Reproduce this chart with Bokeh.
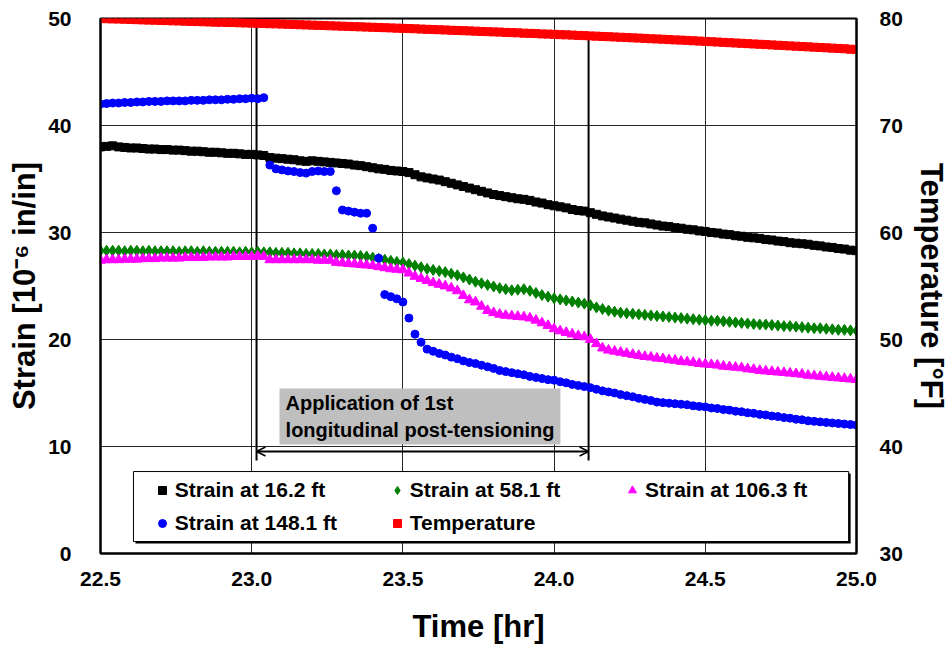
from bokeh.plotting import figure
from bokeh.models import (Range1d, LinearAxis, FixedTicker, Legend, LegendItem, Label,
                          BoxAnnotation, Arrow, OpenHead, PrintfTickFormatter)
from bokeh.embed import file_html
from bokeh.resources import INLINE

# ---------------- data ----------------
time_hr = [
    22.50, 22.52, 22.54, 22.56, 22.58, 22.60, 22.62, 22.64, 22.66, 22.68,
    22.70, 22.72, 22.74, 22.76, 22.78, 22.80, 22.82, 22.84, 22.86, 22.88,
    22.90, 22.92, 22.94, 22.96, 22.98, 23.00, 23.02, 23.04, 23.06, 23.08,
    23.10, 23.12, 23.14, 23.16, 23.18, 23.20, 23.22, 23.24, 23.26, 23.28,
    23.30, 23.32, 23.34, 23.36, 23.38, 23.40, 23.42, 23.44, 23.46, 23.48,
    23.50, 23.52, 23.54, 23.56, 23.58, 23.60, 23.62, 23.64, 23.66, 23.68,
    23.70, 23.72, 23.74, 23.76, 23.78, 23.80, 23.82, 23.84, 23.86, 23.88,
    23.90, 23.92, 23.94, 23.96, 23.98, 24.00, 24.02, 24.04, 24.06, 24.08,
    24.10, 24.12, 24.14, 24.16, 24.18, 24.20, 24.22, 24.24, 24.26, 24.28,
    24.30, 24.32, 24.34, 24.36, 24.38, 24.40, 24.42, 24.44, 24.46, 24.48,
    24.50, 24.52, 24.54, 24.56, 24.58, 24.60, 24.62, 24.64, 24.66, 24.68,
    24.70, 24.72, 24.74, 24.76, 24.78, 24.80, 24.82, 24.84, 24.86, 24.88,
    24.90, 24.92, 24.94, 24.96, 24.98, 25.00,
]

strain_16_2 = [
    38.00, 38.05, 38.10, 38.00, 37.95, 37.90, 37.90, 37.85, 37.80, 37.80,
    37.75, 37.75, 37.70, 37.70, 37.65, 37.60, 37.60, 37.55, 37.50, 37.50,
    37.45, 37.40, 37.40, 37.35, 37.30, 37.30, 37.25, 37.20, 37.00, 36.95,
    36.90, 36.85, 36.80, 36.70, 36.65, 36.70, 36.65, 36.60, 36.55, 36.50,
    36.45, 36.40, 36.30, 36.25, 36.15, 36.05, 35.95, 35.90, 35.80, 35.75,
    35.70, 35.60, 35.40, 35.20, 35.10, 35.00, 34.90, 34.75, 34.60, 34.45,
    34.30, 34.15, 34.00, 33.85, 33.70, 33.55, 33.45, 33.35, 33.25, 33.15,
    33.10, 33.00, 32.85, 32.75, 32.60, 32.50, 32.40, 32.30, 32.15, 32.05,
    32.00, 31.85, 31.70, 31.55, 31.45, 31.35, 31.25, 31.15, 31.05, 30.95,
    30.90, 30.80, 30.70, 30.60, 30.55, 30.45, 30.40, 30.30, 30.25, 30.15,
    30.10, 30.00, 29.95, 29.85, 29.80, 29.70, 29.65, 29.55, 29.50, 29.45,
    29.35, 29.30, 29.20, 29.15, 29.05, 29.00, 28.95, 28.90, 28.80, 28.75,
    28.65, 28.60, 28.50, 28.45, 28.35, 28.30,
]

strain_58_1 = [
    28.30, 28.30, 28.30, 28.30, 28.25, 28.30, 28.30, 28.25, 28.30, 28.25,
    28.25, 28.25, 28.25, 28.20, 28.25, 28.25, 28.20, 28.25, 28.20, 28.20,
    28.20, 28.20, 28.20, 28.15, 28.20, 28.15, 28.20, 28.15, 28.15, 28.10,
    28.10, 28.10, 28.05, 28.05, 28.00, 28.00, 28.00, 27.95, 27.95, 27.90,
    27.90, 27.85, 27.85, 27.80, 27.75, 27.65, 27.55, 27.45, 27.35, 27.25,
    27.20, 27.05, 26.90, 26.75, 26.60, 26.50, 26.40, 26.30, 26.15, 26.00,
    25.80, 25.60, 25.40, 25.25, 25.10, 24.95, 24.80, 24.70, 24.60, 24.65,
    24.70, 24.55, 24.35, 24.15, 24.00, 23.85, 23.75, 23.65, 23.55, 23.45,
    23.35, 23.20, 23.00, 22.85, 22.70, 22.60, 22.50, 22.45, 22.40, 22.35,
    22.30, 22.25, 22.20, 22.15, 22.10, 22.05, 22.00, 21.95, 21.90, 21.85,
    21.80, 21.75, 21.75, 21.70, 21.65, 21.60, 21.55, 21.50, 21.45, 21.40,
    21.40, 21.35, 21.30, 21.25, 21.25, 21.20, 21.15, 21.10, 21.05, 21.05,
    21.00, 20.95, 20.90, 20.90, 20.85, 20.80,
]

strain_106_3 = [
    27.40, 27.45, 27.45, 27.45, 27.50, 27.50, 27.50, 27.55, 27.55, 27.55,
    27.60, 27.60, 27.60, 27.60, 27.65, 27.65, 27.65, 27.65, 27.70, 27.70,
    27.70, 27.70, 27.75, 27.75, 27.75, 27.75, 27.80, 27.75, 27.45, 27.45,
    27.45, 27.45, 27.45, 27.45, 27.45, 27.45, 27.40, 27.40, 27.40, 27.20,
    27.15, 27.10, 27.05, 27.00, 26.95, 26.90, 26.80, 26.70, 26.60, 26.55,
    26.50, 26.20, 25.90, 25.70, 25.50, 25.30, 25.15, 25.00, 24.80, 24.55,
    24.10, 23.70, 23.50, 23.10, 22.70, 22.50, 22.35, 22.25, 22.20, 22.15,
    22.10, 22.00, 21.80, 21.55, 21.30, 21.00, 20.80, 20.65, 20.50, 20.35,
    20.25, 20.00, 19.60, 19.20, 19.00, 18.90, 18.80, 18.70, 18.60, 18.50,
    18.40, 18.35, 18.25, 18.20, 18.10, 18.05, 17.95, 17.90, 17.85, 17.75,
    17.70, 17.65, 17.60, 17.50, 17.45, 17.40, 17.35, 17.25, 17.20, 17.10,
    17.05, 17.00, 16.95, 16.90, 16.85, 16.80, 16.75, 16.65, 16.60, 16.55,
    16.50, 16.45, 16.40, 16.35, 16.30, 16.25,
]

strain_148_1 = [
    42.00, 42.05, 42.10, 42.10, 42.15, 42.15, 42.20, 42.20, 42.25, 42.25,
    42.25, 42.30, 42.30, 42.30, 42.30, 42.35, 42.35, 42.35, 42.40, 42.40,
    42.40, 42.45, 42.45, 42.50, 42.50, 42.55, 42.50, 42.60, 36.30, 35.95,
    35.85, 35.75, 35.70, 35.60, 35.55, 35.70, 35.75, 35.70, 35.70, 33.90,
    32.10, 32.00, 31.90, 31.80, 31.80, 30.40, 27.60, 24.20, 24.00, 23.80,
    23.50, 22.00, 20.50, 19.75, 19.10, 18.90, 18.70, 18.55, 18.35, 18.20,
    18.00, 17.85, 17.75, 17.60, 17.45, 17.30, 17.10, 17.00, 16.90, 16.80,
    16.70, 16.55, 16.45, 16.35, 16.25, 16.20, 16.05, 15.95, 15.80, 15.70,
    15.60, 15.50, 15.35, 15.20, 15.10, 15.00, 14.85, 14.75, 14.65, 14.50,
    14.40, 14.30, 14.15, 14.10, 14.05, 14.00, 13.95, 13.90, 13.80, 13.75,
    13.70, 13.60, 13.55, 13.45, 13.40, 13.30, 13.25, 13.15, 13.10, 13.00,
    12.95, 12.85, 12.80, 12.70, 12.65, 12.55, 12.50, 12.40, 12.35, 12.30,
    12.25, 12.20, 12.15, 12.10, 12.05, 12.00,
]

temperature_F = [
    80.00, 79.98, 79.96, 79.95, 79.93, 79.91, 79.89, 79.87, 79.85, 79.84,
    79.82, 79.80, 79.78, 79.77, 79.75, 79.73, 79.71, 79.70, 79.68, 79.66,
    79.65, 79.63, 79.62, 79.60, 79.58, 79.57, 79.55, 79.53, 79.51, 79.50,
    79.48, 79.46, 79.44, 79.42, 79.40, 79.38, 79.36, 79.34, 79.32, 79.30,
    79.28, 79.26, 79.24, 79.22, 79.20, 79.18, 79.16, 79.14, 79.12, 79.10,
    79.08, 79.06, 79.04, 79.01, 78.99, 78.97, 78.95, 78.93, 78.90, 78.88,
    78.86, 78.84, 78.82, 78.79, 78.77, 78.75, 78.73, 78.70, 78.68, 78.66,
    78.63, 78.61, 78.59, 78.56, 78.54, 78.52, 78.49, 78.47, 78.45, 78.42,
    78.40, 78.37, 78.35, 78.32, 78.30, 78.27, 78.25, 78.22, 78.19, 78.17,
    78.14, 78.11, 78.09, 78.06, 78.03, 78.00, 77.98, 77.95, 77.92, 77.89,
    77.86, 77.83, 77.80, 77.77, 77.74, 77.71, 77.68, 77.65, 77.62, 77.59,
    77.56, 77.53, 77.50, 77.47, 77.44, 77.41, 77.38, 77.35, 77.32, 77.29,
    77.26, 77.23, 77.20, 77.17, 77.13, 77.10,
]

series_labels = ["Strain at 16.2 ft", "Strain at 58.1 ft", "Strain at 106.3 ft",
                 "Strain at 148.1 ft", "Temperature"]

x_ticks = [22.5, 23.0, 23.5, 24.0, 24.5, 25.0]
strain_ticks = [0, 10, 20, 30, 40, 50]
temp_ticks = [30, 40, 50, 60, 70, 80]

# annotation of the post-tensioning period (hr / strain units)
event_start_hr = 23.016
event_end_hr = 24.114
event_line_top = [49.8, 48.3]
event_line_bottom = 8.7
event_arrow_y = 9.53
note_lines = ["Application of 1st", "longitudinal post-tensioning"]

FONT = "Liberation Sans"

p = figure(width=951, height=650, output_backend="svg", toolbar_location=None,
           x_range=Range1d(22.5, 25.0), y_range=Range1d(0, 50),
           min_border_left=100, min_border_right=95, min_border_top=18,
           min_border_bottom=97, background_fill_color="white",
           border_fill_color="white")
p.extra_y_ranges = {"temp": Range1d(30, 80)}

right_axis = LinearAxis(y_range_name="temp", axis_label="Temperature [°F]")
p.add_layout(right_axis, "right")

xa = p.below[0]
ya = p.left[0]
xa.axis_label = "Time [hr]"
ya.axis_label = "Strain [10\u207b\u2076 in/in]"
xa.ticker = FixedTicker(ticks=x_ticks)
xa.formatter = PrintfTickFormatter(format="%.1f")
ya.ticker = FixedTicker(ticks=strain_ticks)
right_axis.ticker = FixedTicker(ticks=temp_ticks)

for ax in (xa, ya, right_axis):
    ax.axis_line_color = "black"
    ax.axis_line_width = 2
    ax.major_tick_line_color = None
    ax.minor_tick_line_color = None
    ax.major_label_text_font = FONT
    ax.major_label_text_font_style = "bold"
    ax.major_label_text_font_size = "21px"
    ax.major_label_text_color = "black"
    ax.axis_label_text_font = FONT
    ax.axis_label_text_font_style = "bold"
    ax.axis_label_text_font_size = "31px"
    ax.axis_label_text_color = "black"

xa.major_label_standoff = 12
xa.axis_label_standoff = 20
ya.major_label_standoff = 23
ya.axis_label_standoff = 3
right_axis.major_label_standoff = 17
right_axis.axis_label_standoff = 8

p.xgrid.ticker = FixedTicker(ticks=x_ticks)
p.ygrid.ticker = FixedTicker(ticks=strain_ticks)
for g in (p.xgrid, p.ygrid):
    g.grid_line_color = "black"
    g.grid_line_width = 1
    g.grid_line_alpha = 0.85

p.outline_line_color = "black"
p.outline_line_width = 2

# event lines
p.segment(x0=[event_start_hr, event_end_hr], y0=event_line_top,
          x1=[event_start_hr, event_end_hr], y1=[event_line_bottom, event_line_bottom],
          line_color="black", line_width=2)

# series
r1 = p.scatter(time_hr, strain_16_2, marker="square", size=8, color="black")
r2 = p.scatter(time_hr, strain_58_1, marker="diamond", size=11, color="#008000")
r3 = p.scatter(time_hr, strain_106_3, marker="triangle", size=10, color="#FF00FF")
r4 = p.scatter(time_hr, strain_148_1, marker="circle", size=8, color="#0000FF")
r5 = p.scatter(time_hr, temperature_F, marker="square", size=8, color="#FF0000",
               y_range_name="temp")

# gray note box
p.add_layout(BoxAnnotation(left=23.092, right=24.021, bottom=10.19, top=15.42,
                           fill_color="#BFBFBF", fill_alpha=1, line_alpha=0))
for txt, yy in zip(note_lines, [14.02, 11.50]):
    p.add_layout(Label(x=23.112, y=yy, text=txt, text_font=FONT,
                       text_font_style="bold", text_font_size="20px",
                       text_color="black", text_baseline="middle", text_align="left"))

p.add_layout(Arrow(x_start=event_start_hr, x_end=event_end_hr,
                   y_start=event_arrow_y, y_end=event_arrow_y, line_width=2,
                   line_color="black",
                   start=OpenHead(size=9, line_width=1.5, line_color="black"),
                   end=OpenHead(size=9, line_width=1.5, line_color="black")))

# legend frame with shadow
p.add_layout(BoxAnnotation(left=22.6156, right=24.9806, bottom=0.93, top=7.48,
                           fill_color="black", fill_alpha=1, line_alpha=0))
p.add_layout(BoxAnnotation(left=22.609, right=24.974, bottom=1.12, top=7.66,
                           fill_color="white", fill_alpha=1, line_color="black",
                           line_width=1, line_alpha=1))

renderers = [r1, r2, r3, r4, r5]
columns = [([0, 3], (51.7, 18)), ([1, 4], (286.7, 18)), ([2], (522, 51))]
for idx, loc in columns:
    lg = Legend(items=[LegendItem(label=series_labels[i], renderers=[renderers[i]]) for i in idx],
                location=loc, orientation="vertical",
                label_text_font=FONT, label_text_font_style="bold",
                label_text_font_size="21px", label_text_color="black",
                glyph_width=20, glyph_height=20, label_standoff=3, spacing=9,
                padding=0, margin=0, border_line_alpha=0, background_fill_alpha=0)
    p.add_layout(lg)

open("out.html", "w").write(file_html(p, INLINE))
